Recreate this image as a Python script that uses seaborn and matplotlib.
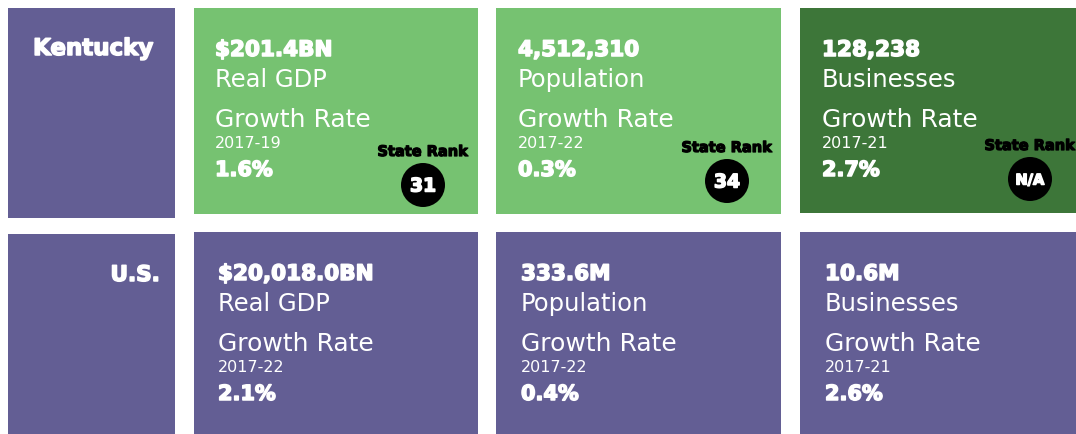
import matplotlib
matplotlib.use("Agg")
import matplotlib.pyplot as plt
import matplotlib.patheffects as pe
from matplotlib.patches import Rectangle, Circle
import seaborn as sns

# data
regions = ["Kentucky", "U.S."]
metrics = ["Real GDP", "Population", "Businesses"]
ky_values = ["$201.4BN", "4,512,310", "128,238"]
us_values = ["$20,018.0BN", "333.6M", "10.6M"]
ky_periods = ["2017-19", "2017-22", "2017-21"]
us_periods = ["2017-22", "2017-22", "2017-21"]
ky_growth = [1.6, 0.3, 2.7]
us_growth = [2.1, 0.4, 2.6]
ky_ranks = ["31", "34", "N/A"]

PURPLE = "#635E94"
LIGHT_GREEN = "#76C271"
DARK_GREEN = "#3D7639"

sns.set_theme(style="white")
plt.rcParams["font.family"] = ["DejaVu Sans"]

# fake a heavier weight than DejaVu Bold
heavy_w = [pe.withStroke(linewidth=1.1, foreground="white")]
heavy_k = [pe.withStroke(linewidth=0.9, foreground="black")]

W, H = 1076, 435
fig = plt.figure(figsize=(W / 100, H / 100), dpi=100)
ax = fig.add_axes([0, 0, 1, 1])
ax.set_xlim(0, W)
ax.set_ylim(H, 0)
ax.axis("off")

card_x = [(194, 478), (496, 781), (800, 1076)]
rows = [
    dict(label=regions[0], top=9, bottom=[215, 215, 214], lab_bottom=219,
         values=ky_values, periods=ky_periods, growth=ky_growth,
         colors=[LIGHT_GREEN, LIGHT_GREEN, DARK_GREEN], text_dx=21,
         ranks=ky_ranks),
    dict(label=regions[1], top=233, bottom=[435, 435, 435], lab_bottom=435,
         values=us_values, periods=us_periods, growth=us_growth,
         colors=[PURPLE, PURPLE, PURPLE], text_dx=24, ranks=None),
]

for r, row in enumerate(rows):
    top = row["top"]
    lab_top = 9 if r == 0 else 235
    ax.add_patch(Rectangle((8, lab_top), 167, row["lab_bottom"] - lab_top,
                           color=PURPLE, lw=0))
    if r == 0:
        ax.text(93, 56, row["label"], color="white", fontsize=16.5,
                fontweight="bold", ha="center", va="baseline",
                path_effects=heavy_w)
    else:
        ax.text(160, 282, row["label"], color="white", fontsize=15.5,
                fontweight="bold", ha="right", va="baseline",
                path_effects=heavy_w)

    for i, (x0, x1) in enumerate(card_x):
        ax.add_patch(Rectangle((x0, top), x1 - x0, row["bottom"][i] - top,
                               color=row["colors"][i], lw=0))
        tx = x0 + row["text_dx"] + (1 if i > 0 else 0)
        by = top
        ax.text(tx, by + 48, row["values"][i], color="white", fontsize=15.5,
                fontweight="bold", va="baseline", path_effects=heavy_w)
        ax.text(tx, by + 78, metrics[i], color="white", fontsize=17.5,
                va="baseline")
        ax.text(tx, by + 118, "Growth Rate", color="white", fontsize=18,
                va="baseline")
        ax.text(tx, by + 139, row["periods"][i], color="white", fontsize=11.5,
                va="baseline")
        ax.text(tx, by + 168, f"{row['growth'][i]:.1f}%", color="white",
                fontsize=15, fontweight="bold", va="baseline",
                path_effects=heavy_w)

        if row["ranks"] is not None:
            cx = [423, 727, 1030][i]
            cy = [186, 182, 180][i]
            ax.text(cx, cy - 29, "State Rank", color="black", fontsize=10.5,
                    fontweight="bold", ha="center", va="baseline",
                    path_effects=heavy_k)
            ax.add_patch(Circle((cx, cy), 22, color="black", lw=0))
            ax.text(cx, cy + 1, row["ranks"][i], color="white",
                    fontsize=13.5 if row["ranks"][i] != "N/A" else 10.5,
                    fontweight="bold", ha="center", va="center",
                    path_effects=heavy_w)

fig.savefig("out.png", dpi=100)
